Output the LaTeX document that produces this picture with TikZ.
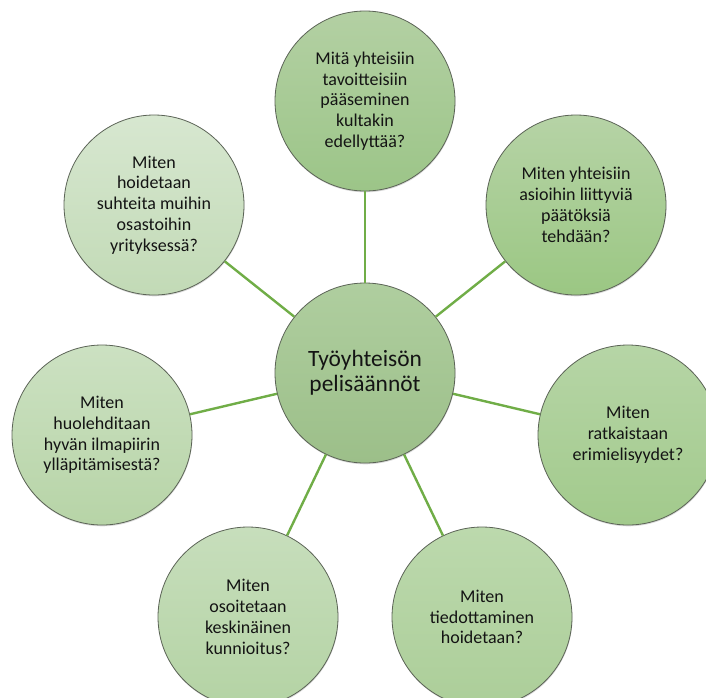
\documentclass[tikz,border=0pt]{standalone}
\usepackage{fontspec}
\setmainfont{Carlito}
\usetikzlibrary{shadows}

\definecolor{link}{HTML}{70AD47}
\definecolor{rim}{HTML}{5B6356}
% fill gradients, light top / darker bottom
\definecolor{cA}{HTML}{AFCE9F}\definecolor{cB}{HTML}{9CBF89}
\definecolor{tA}{HTML}{B3D0A3}\definecolor{tB}{HTML}{9CC588}
\definecolor{trA}{HTML}{B6D3A6}\definecolor{trB}{HTML}{9BC783}
\definecolor{rA}{HTML}{B6D5A6}\definecolor{rB}{HTML}{A2CA8C}
\definecolor{brA}{HTML}{BCD9AD}\definecolor{brB}{HTML}{ACCE99}
\definecolor{blA}{HTML}{C7DEBC}\definecolor{blB}{HTML}{B4D3A4}
\definecolor{lA}{HTML}{CCE1C2}\definecolor{lB}{HTML}{B7D4A7}
\definecolor{tlA}{HTML}{D7E7D0}\definecolor{tlB}{HTML}{C2DAB6}

\begin{document}
\begin{tikzpicture}[x=1pt, y=-1pt,
  bubble/.style={circle, minimum size=180pt, inner sep=0pt, draw=rim,
    line width=0.8pt, align=center, text=black!92,
    font=\fontsize{18}{20.8}\selectfont,
    drop shadow={shadow xshift=0.4pt, shadow yshift=-1.3pt, opacity=0.3}},
  hub/.style={bubble, font=\fontsize{23.4}{25.2}\selectfont},
  spoke/.style={draw=link, line width=2.4pt}]

\useasboundingbox (0,0) rectangle (706,697);
\clip (0,0) rectangle (706,697);

% central topic
\node[hub, top color=cA, bottom color=cB] (c) at (365,373)
  {Työyhteisön\\pelisäännöt};

% surrounding questions, clockwise from the top
\node[bubble, top color=tA, bottom color=tB] (t) at (365,101)
  {Mitä yhteisiin\\tavoitteisiin\\pääseminen\\kultakin\\edellyttää?};
\node[bubble, top color=trA, bottom color=trB] (tr) at (576,205)
  {Miten yhteisiin\\asioihin liittyviä\\päätöksiä\\tehdään?};
\node[bubble, top color=rA, bottom color=rB] (r) at (628,435)
  {Miten\\ratkaistaan\\erimielisyydet?};
\node[bubble, top color=brA, bottom color=brB] (br) at (482,617)
  {Miten\\tiedottaminen\\hoidetaan?};
\node[bubble, top color=blA, bottom color=blB] (bl) at (248,617)
  {Miten\\osoitetaan\\keskinäinen\\kunnioitus?};
\node[bubble, top color=lA, bottom color=lB] (l) at (102,435)
  {Miten\\huolehditaan\\hyvän ilmapiirin\\ylläpitämisestä?};
\node[bubble, top color=tlA, bottom color=tlB] (tl) at (154,205)
  {Miten\\hoidetaan\\suhteita muihin\\osastoihin\\yrityksessä?};

% spokes
\foreach \n in {t,tr,r,br,bl,l,tl}
  \draw[spoke] (c) -- (\n);
\end{tikzpicture}
\end{document}
